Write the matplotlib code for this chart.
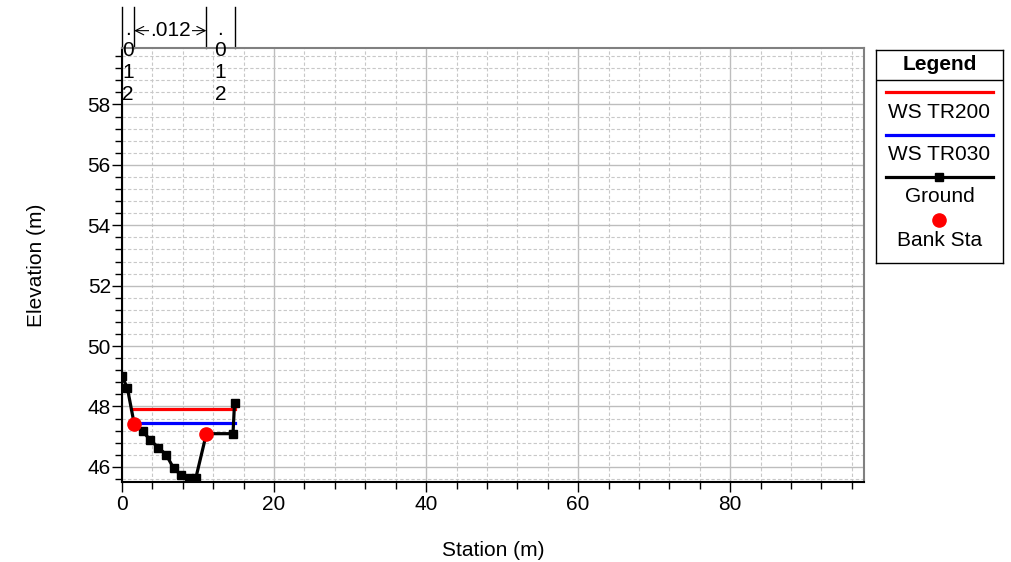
import numpy as np
import matplotlib.pyplot as plt
import matplotlib.transforms as mtransforms

plt.rcParams['font.family'] = ['Liberation Sans', 'DejaVu Sans']

# cross section data
sta_ground = [0.0, 0.7, 1.6, 2.7, 3.7, 4.8, 5.8, 6.8, 7.8, 8.8, 9.7, 11.1, 14.6, 14.8]
elev_ground = [49.0, 48.62, 47.43, 47.18, 46.9, 46.63, 46.41, 45.95, 45.73, 45.62, 45.62, 47.1, 47.1, 48.1]
sta_bank = [1.6, 11.1]
elev_bank = [47.43, 47.1]
ws_tr200 = 47.92
ws_tr030 = 47.46
ws200_sta = [1.2, 14.8]
ws030_sta = [1.5, 14.8]
n_values = ['.012', '.012', '.012']

fs = 15
fig = plt.figure(figsize=(10.12, 5.62), dpi=100)
W, H = 1012, 562
ax = fig.add_axes([122/W, 1-482/H, 742/W, 434/H])

ax.plot(ws200_sta, [ws_tr200]*2, color='red', lw=2.3, zorder=4)
ax.plot(ws030_sta, [ws_tr030]*2, color='blue', lw=2.3, zorder=4)
ax.plot(sta_ground, elev_ground, color='black', lw=2.3, marker='s', ms=6, zorder=5)
ax.plot(sta_bank, elev_bank, 'o', color='red', ms=9.5, zorder=6)

ax.set_xlim(0, 97.6)
ax.set_ylim(45.5, 59.87)
ax.set_xticks(np.arange(0, 81, 20))
ax.set_xticks(np.arange(0, 97.6, 4), minor=True)
ax.set_yticks(np.arange(46, 59, 2))
ax.set_yticks(np.arange(45.6, 59.87, 0.4), minor=True)
ax.grid(which='major', color='#bdbdbd', lw=1, ls='-')
ax.grid(which='minor', color='#c8c8c8', lw=0.8, ls=(0, (3, 2)))
ax.set_axisbelow(True)
ax.tick_params(which='major', direction='out', length=7, labelsize=fs, width=1)
ax.tick_params(which='minor', direction='out', length=5, width=1)
ax.tick_params(axis='y', which='major', pad=1)
ax.tick_params(axis='x', which='major', pad=2)
for s in ['top', 'right']:
    ax.spines[s].set_color('#808080')
    ax.spines[s].set_linewidth(1.5)
for s in ['left', 'bottom']:
    ax.spines[s].set_linewidth(1.5)
ax.set_xlabel('Station (m)', fontsize=fs, labelpad=20)
ax.set_ylabel('Elevation (m)', fontsize=fs, labelpad=30)

# Manning's n markers above the plot
trans = mtransforms.blended_transform_factory(ax.transData, ax.transAxes)
breaks = [sta_ground[0], sta_bank[0], sta_bank[1], sta_ground[-1]]
for b in breaks:
    ax.plot([b, b], [1.0, 1.094], color='black', lw=1, transform=trans, clip_on=False)
ax.annotate('', xy=(breaks[1], 1.04), xytext=(breaks[2], 1.04), xycoords=trans,
            textcoords=trans,
            arrowprops=dict(arrowstyle='<->,head_length=0.6,head_width=0.3', color='black',
                            lw=0.8, shrinkA=0, shrinkB=0))
ax.text((breaks[1]+breaks[2])/2, 1.04, n_values[1], transform=trans, ha='center', va='center',
        fontsize=fs, bbox=dict(facecolor='white', edgecolor='none', pad=1))
for i, j in [(0, 1), (2, 3)]:
    lab = n_values[0] if i == 0 else n_values[2]
    ax.text((breaks[i]+breaks[j])/2, 1.065, '\n'.join(lab), transform=trans, ha='center',
            va='top', fontsize=fs, linespacing=1.18, zorder=7)

# legend box
lax = fig.add_axes([876/W, 1-263/H, 127/W, 213/H])
lax.set_xlim(876, 1003)
lax.set_ylim(263, 50)
lax.set_xticks([])
lax.set_yticks([])
for s in lax.spines.values():
    s.set_linewidth(1)
lax.plot([876, 1003], [80, 80], color='black', lw=1)
lax.text(939.5, 64, 'Legend', ha='center', va='center', fontsize=fs, fontweight='bold')
lax.plot([886, 993], [92, 92], color='red', lw=2.3)
lax.text(939.5, 112, 'WS TR200', ha='center', va='center', fontsize=fs)
lax.plot([886, 993], [135, 135], color='blue', lw=2.3)
lax.text(939.5, 155, 'WS TR030', ha='center', va='center', fontsize=fs)
lax.plot([886, 993], [177, 177], color='black', lw=2.3)
lax.plot([939.5], [177], 's', color='black', ms=6)
lax.text(939.5, 197, 'Ground', ha='center', va='center', fontsize=fs)
lax.plot([939.5], [220], 'o', color='red', ms=9.5)
lax.text(939.5, 240, 'Bank Sta', ha='center', va='center', fontsize=fs)

fig.savefig('out.png', dpi=100)
